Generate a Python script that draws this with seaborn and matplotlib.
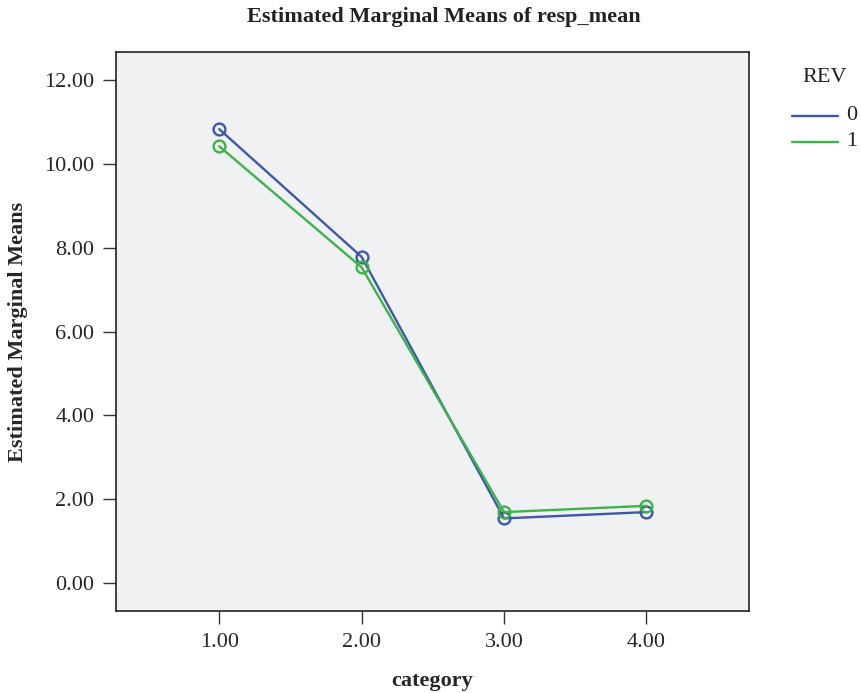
import pandas as pd
import matplotlib
matplotlib.use("Agg")
import matplotlib.pyplot as plt
from matplotlib.lines import Line2D
import seaborn as sns

# values
category = [1.0, 2.0, 3.0, 4.0]
rev0 = [10.83, 7.78, 1.54, 1.69]
rev1 = [10.42, 7.53, 1.69, 1.84]
yticks = [0, 2, 4, 6, 8, 10, 12]
xticks = [1, 2, 3, 4]
rev_levels = ["0", "1"]

df = pd.DataFrame({
    "category": category * 2,
    "resp_mean": rev0 + rev1,
    "REV": ["0"] * 4 + ["1"] * 4,
})

sns.set_style("white")
plt.rcParams["font.family"] = ["Liberation Serif", "DejaVu Serif"]

colors = {"0": "#3E57A8", "1": "#3DB34A"}
fs = 16
W, H = 862, 693

fig = plt.figure(figsize=(W / 100, H / 100), dpi=100)
ax = fig.add_axes([116 / W, 1 - 611 / H, 633 / W, 559 / H])
ax.set_facecolor("#F0F1F3")

sns.lineplot(data=df, x="category", y="resp_mean", hue="REV", palette=colors,
             marker="o", markersize=8.5, linewidth=1.7, legend=False, ax=ax)
# open circles in the line colour
for ln in ax.get_lines():
    c = ln.get_color()
    ln.set_markerfacecolor("none")
    ln.set_markeredgecolor(c)
    ln.set_markeredgewidth(1.7)

ax.set_xlim(0.275, 4.72)
ax.set_ylim(-0.67, 12.67)
ax.set_xticks(xticks)
ax.set_xticklabels([f"{v:.2f}" for v in xticks], fontsize=fs)
ax.set_yticks(yticks)
ax.set_yticklabels([f"{v:.2f}" for v in yticks], fontsize=fs)
ax.tick_params(axis="both", direction="out", length=9.5, width=1,
               color="#333333", bottom=True, left=True, pad=6)

for s in ax.spines.values():
    s.set_color("#222222")
    s.set_linewidth(1.2)

ax.set_xlabel("category", fontsize=fs, fontweight="bold", labelpad=14)
ax.set_ylabel("Estimated Marginal Means", fontsize=fs, fontweight="bold",
              labelpad=12)
fig.text(444 / W, 1 - 17 / H, "Estimated Marginal Means of resp_mean",
         fontsize=fs, fontweight="bold", ha="center", va="center",
         color="#222222")

# legend, SPSS style: title above short line keys
fig.text(825 / W, 1 - 77 / H, "REV", fontsize=fs, ha="center", va="center",
         color="#222222")
for i, k in enumerate(rev_levels):
    yy = 1 - (116 + 26 * i) / H
    fig.add_artist(Line2D([792 / W, 838 / W], [yy, yy], color=colors[k],
                          lw=1.7, transform=fig.transFigure))
    fig.text(846 / W, yy, k, fontsize=fs, ha="left", va="center",
             color="#222222")

fig.savefig("out.png", dpi=100)
